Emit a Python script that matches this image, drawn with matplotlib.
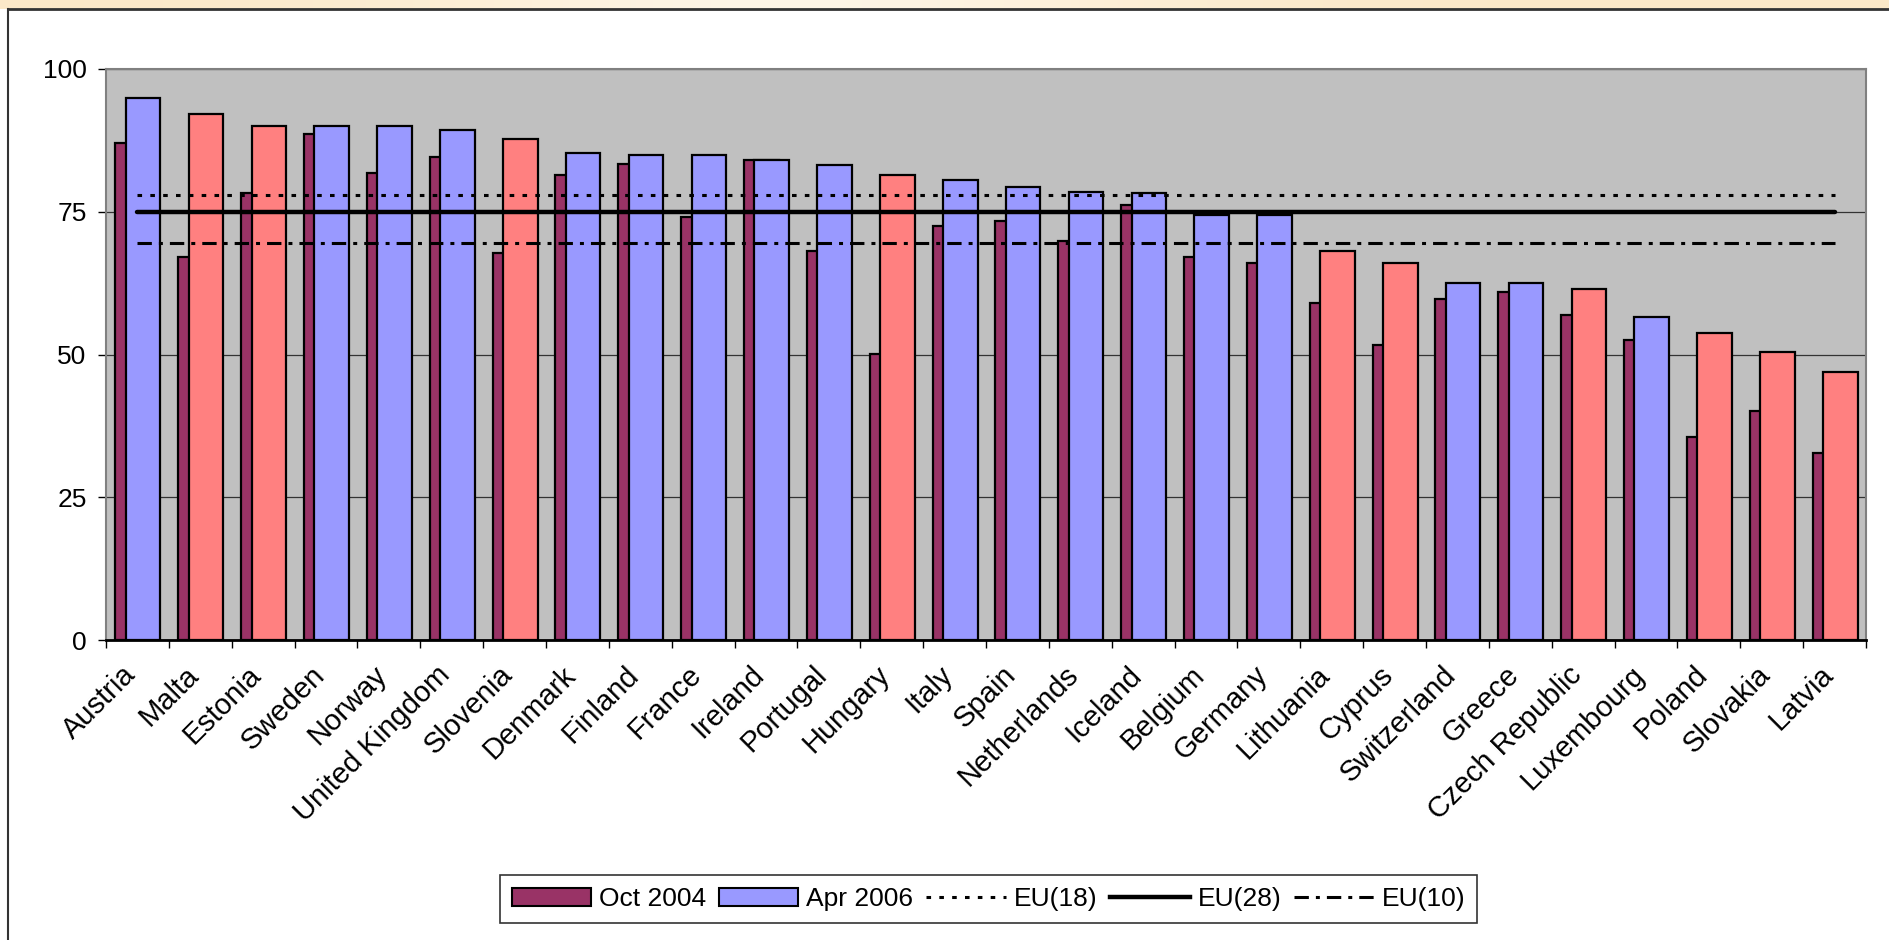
import matplotlib.pyplot as plt
import matplotlib.transforms as mtransforms
import numpy as np
from matplotlib.patches import Patch
from matplotlib.lines import Line2D
from matplotlib.colors import LinearSegmentedColormap

plt.rcParams['font.family'] = ['Liberation Sans', 'DejaVu Sans']

countries = ['Austria', 'Malta', 'Estonia', 'Sweden', 'Norway', 'United Kingdom',
             'Slovenia', 'Denmark', 'Finland', 'France', 'Ireland', 'Portugal',
             'Hungary', 'Italy', 'Spain', 'Netherlands', 'Iceland', 'Belgium',
             'Germany', 'Lithuania', 'Cyprus', 'Switzerland', 'Greece',
             'Czech Republic', 'Luxembourg', 'Poland', 'Slovakia', 'Latvia']
oct_2004 = [87.0, 67.0, 78.2, 88.6, 81.8, 84.6, 67.7, 81.4, 83.4, 74.1, 84.1, 68.1,
            50.1, 72.5, 73.3, 69.8, 76.1, 67.0, 66.0, 59.0, 51.7, 59.7, 61.0,
            57.0, 52.5, 35.6, 40.1, 32.8]
apr_2006 = [94.9, 92.1, 90.1, 90.1, 90.1, 89.4, 87.7, 85.3, 84.9, 84.9, 84.1, 83.1,
            81.4, 80.6, 79.3, 78.5, 78.2, 74.4, 74.4, 68.1, 66.1, 62.5, 62.5,
            61.4, 56.6, 53.7, 50.5, 47.0]
# 1 = new member state (pink bar for Apr 2006)
new_member = [0, 1, 1, 0, 0, 0, 1, 0, 0, 0, 0, 0, 1, 0, 0, 0, 0, 0, 0, 1, 1, 0, 0,
              1, 0, 1, 1, 1]
eu18 = 78.0
eu28 = 75.0
eu10 = 69.5

plum = '#993366'
blue = '#9999FF'
pink = '#FF8080'

fig = plt.figure(figsize=(18.9, 9.4), dpi=100)
fig.patch.set_facecolor('white')

# beige band + frame at the top
band = fig.add_axes([0, 1 - 9 / 940, 1, 9 / 940])
grad = np.array([[0.0, 0.35, 1.0, 0.35, 0.0, 0.0]])
cm = LinearSegmentedColormap.from_list('b', ['#FBE8C8', '#FEF8EE'])
band.imshow(grad, aspect='auto', cmap=cm, extent=[0, 1, 0, 1], interpolation='bicubic')
band.axis('off')
fig.add_artist(Line2D([8 / 1890, 1], [1 - 9 / 940, 1 - 9 / 940], color='#333333', lw=2))
fig.add_artist(Line2D([8 / 1890, 8 / 1890], [0, 1 - 9 / 940], color='#333333', lw=1.5))

ax = fig.add_axes([106 / 1890, 1 - 640 / 940, 1760 / 1890, 571 / 940])
ax.set_facecolor('#C0C0C0')

x = np.arange(len(countries))
apr_colors = [pink if m else blue for m in new_member]

ax.bar(x - 0.075, oct_2004, width=0.55, color=plum, edgecolor='black', linewidth=1.6, zorder=3)
ax.bar(x + 0.09, apr_2006, width=0.55, color=apr_colors, edgecolor='black', linewidth=1.6, zorder=4)

ax.plot(x, [eu18] * len(x), color='black', lw=2.2, linestyle=(0, (1.5, 2.7)), zorder=5)
ax.plot(x, [eu28] * len(x), color='black', lw=3.2, solid_capstyle='round', zorder=5)
ax.plot(x, [eu10] * len(x), color='black', lw=2.2, linestyle=(0, (4.7, 2.3, 1.3, 2.3)), zorder=5)

ax.set_xlim(-0.5, len(x) - 0.5)
ax.set_ylim(0, 100)
ax.set_yticks([0, 25, 50, 75, 100])
ax.yaxis.grid(True, color='#333333', lw=0.9, zorder=1)
ax.set_axisbelow(True)

ax.tick_params(axis='y', length=6, width=1, direction='out', pad=8, labelsize=19)
ax.set_xticks(x)
ax.set_xticklabels(countries, rotation=45, ha='right', va='center',
                   rotation_mode='anchor', fontsize=21)
ax.tick_params(axis='x', which='major', length=0, pad=22)
ax.set_xticks(np.arange(-0.5, len(x), 1), minor=True)
ax.tick_params(axis='x', which='minor', length=6, width=1, direction='out')
offset = mtransforms.ScaledTranslation(-6 / 100, 0, fig.dpi_scale_trans)
for lbl in ax.get_xticklabels():
    lbl.set_transform(lbl.get_transform() + offset)

for side in ['top', 'right', 'left']:
    ax.spines[side].set_color('#808080')
    ax.spines[side].set_linewidth(1.5)
ax.spines['bottom'].set_color('black')
ax.spines['bottom'].set_linewidth(2)

handles = [
    Patch(facecolor=plum, edgecolor='black', linewidth=1.5),
    Patch(facecolor=blue, edgecolor='black', linewidth=1.5),
    Line2D([], [], color='black', lw=2.2, linestyle=(0, (1.5, 2.7))),
    Line2D([], [], color='black', lw=3.2),
    Line2D([], [], color='black', lw=2.2, linestyle=(0, (4.7, 2.3, 1.3, 2.3))),
]
labels = ['Oct 2004', 'Apr 2006', 'EU(18)', 'EU(28)', 'EU(10)']
leg = fig.legend(handles, labels, loc='center', bbox_to_anchor=(0.523, 0.0436),
                 ncol=5, fontsize=19, frameon=True, fancybox=False, shadow=False,
                 handlelength=3.0, handletextpad=0.3, columnspacing=0.5,
                 borderpad=0.45, edgecolor='black')
leg.get_frame().set_linewidth(1.2)

fig.savefig('out.png', dpi=100)
